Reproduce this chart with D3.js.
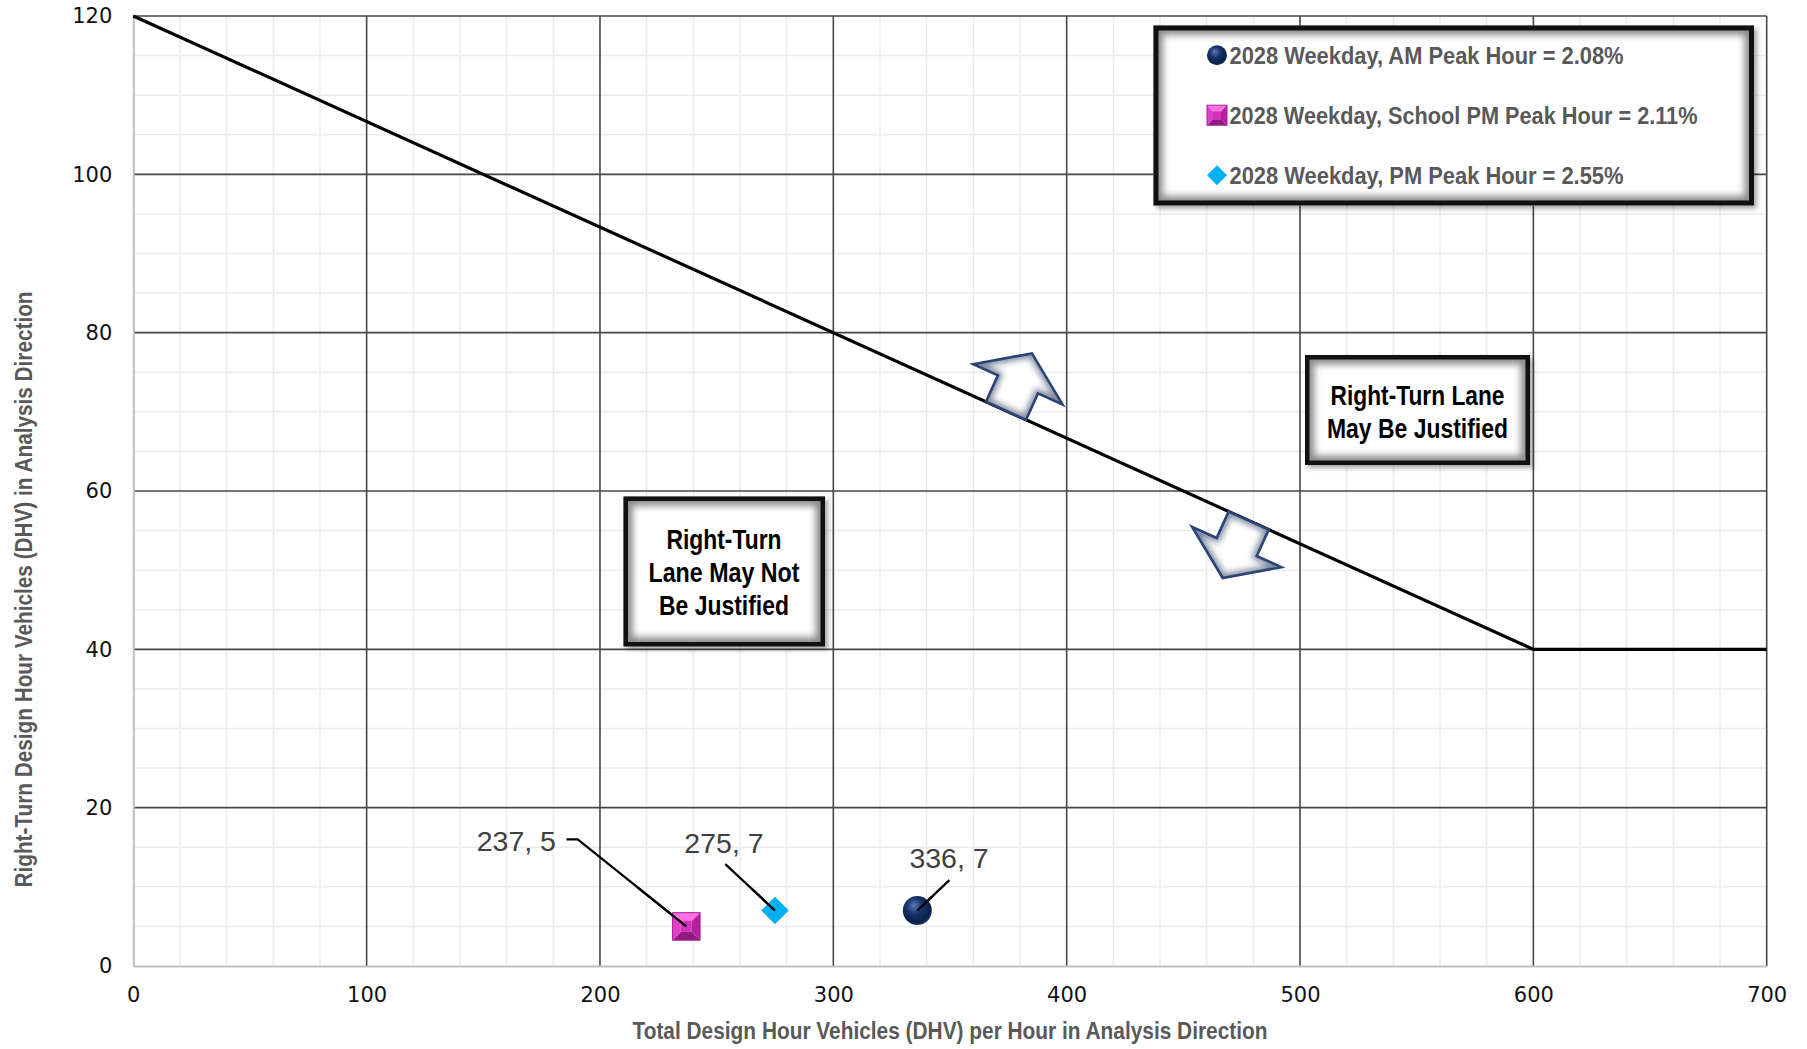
<!DOCTYPE html>
<html>
<head>
<meta charset="utf-8">
<script src="https://cdn.jsdelivr.net/npm/d3@7"></script>
<style>
  html, body { margin: 0; padding: 0; background: #ffffff; }
  svg { display: block; }
</style>
</head>
<body>
<svg id="chart" width="1807" height="1049"></svg>
<script>
// ---------------- DATA ----------------
const xTickValues = [0, 100, 200, 300, 400, 500, 600, 700];
const yTickValues = [0, 20, 40, 60, 80, 100, 120];
const xMinorStep = 20;
const yMinorStep = 5;

// threshold curve (right-turn lane guideline)
const thresholdX = [0, 600, 700];
const thresholdY = [120, 40, 40];

// scenario points
const seriesNames = [
  "2028 Weekday, AM Peak Hour = 2.08%",
  "2028 Weekday, School PM Peak Hour = 2.11%",
  "2028 Weekday, PM Peak Hour = 2.55%"
];
const seriesKeys = ["am", "school", "pm"];
const seriesX = [336, 237, 275];
const seriesY = [7, 5, 7];

// region labels
const regionBelowLines = ["Right-Turn", "Lane May Not", "Be Justified"];
const regionAboveLines = ["Right-Turn Lane", "May Be Justified"];

// arrows anchored on the threshold line (x value of arrow base)
const arrowBaseX = [374, 478];
const arrowDirs = ["up", "down"];

const xAxisTitle = "Total Design Hour Vehicles (DHV) per Hour in Analysis Direction";
const yAxisTitle = "Right-Turn Design Hour Vehicles (DHV) in Analysis Direction";

// ---------------- LAYOUT ----------------
const svg = d3.select("#chart");
const L = 133.3, R = 1766.7, T = 16, B = 966;
const x = d3.scaleLinear().domain([0, 700]).range([L, R]);
const y = d3.scaleLinear().domain([0, 120]).range([B, T]);
const thresholdAt = d3.scaleLinear().domain(thresholdX).range(thresholdY);

const defs = svg.append("defs");

// box drop shadow
const sh = defs.append("filter").attr("id", "boxShadow")
  .attr("x", "-10%").attr("y", "-10%").attr("width", "125%").attr("height", "130%");
sh.append("feDropShadow").attr("dx", 3).attr("dy", 3).attr("stdDeviation", 2.5)
  .attr("flood-color", "#000").attr("flood-opacity", 0.35);
const bl = defs.append("filter").attr("id", "bevelBlur")
  .attr("x", "-20%").attr("y", "-20%").attr("width", "140%").attr("height", "140%");
bl.append("feGaussianBlur").attr("stdDeviation", 3.5);
const bl2 = defs.append("filter").attr("id", "arrowBlur")
  .attr("x", "-20%").attr("y", "-20%").attr("width", "140%").attr("height", "140%");
bl2.append("feGaussianBlur").attr("stdDeviation", 3);

// sphere gradient
const sg = defs.append("radialGradient").attr("id", "sphere")
  .attr("cx", "42%").attr("cy", "38%").attr("r", "62%").attr("fx", "38%").attr("fy", "32%");
sg.append("stop").attr("offset", "0%").attr("stop-color", "#5a78b4");
sg.append("stop").attr("offset", "45%").attr("stop-color", "#17336a");
sg.append("stop").attr("offset", "85%").attr("stop-color", "#0a1f48");
sg.append("stop").attr("offset", "100%").attr("stop-color", "#1c3160");

// ---------------- GRID ----------------
const grid = svg.append("g");
const xMinor = d3.range(0, 700 + 0.001, xMinorStep).filter(v => v % 100 !== 0);
const yMinor = d3.range(0, 120 + 0.001, yMinorStep).filter(v => v % 20 !== 0);
grid.selectAll("line.xm").data(xMinor).join("line")
  .attr("x1", d => x(d)).attr("x2", d => x(d)).attr("y1", T).attr("y2", B)
  .attr("stroke", "#ebebeb").attr("stroke-width", 1.5);
grid.selectAll("line.ym").data(yMinor).join("line")
  .attr("y1", d => y(d)).attr("y2", d => y(d)).attr("x1", L).attr("x2", R)
  .attr("stroke", "#ebebeb").attr("stroke-width", 1.5);
grid.selectAll("line.xM").data(xTickValues.filter(v => v > 0)).join("line")
  .attr("x1", d => x(d)).attr("x2", d => x(d)).attr("y1", T).attr("y2", B)
  .attr("stroke", "#474747").attr("stroke-width", 1.6);
grid.selectAll("line.yM").data(yTickValues.filter(v => v > 0)).join("line")
  .attr("y1", d => y(d)).attr("y2", d => y(d)).attr("x1", L).attr("x2", R)
  .attr("stroke", "#474747").attr("stroke-width", 1.6);

// axes (lines + tick labels)
const xAxis = d3.axisBottom(x).tickValues(xTickValues).tickSize(0).tickPadding(21).tickFormat(d3.format("d"));
const yAxis = d3.axisLeft(y).tickValues(yTickValues).tickSize(0).tickPadding(21).tickFormat(d3.format("d"));
const gx = svg.append("g").attr("transform", `translate(0,${B})`).call(xAxis);
const gy = svg.append("g").attr("transform", `translate(${L},0)`).call(yAxis);
[gx, gy].forEach(g => {
  g.select(".domain").attr("stroke", "#bfbfbf").attr("stroke-width", 2);
  g.selectAll("text").attr("font-family", "'DejaVu Sans', sans-serif")
    .attr("font-size", 21).attr("fill", "#111");
});

// ---------------- THRESHOLD LINE ----------------
const lineGen = d3.line().x(d => x(d[0])).y(d => y(d[1]));
svg.append("path")
  .datum(thresholdX.map((v, i) => [v, thresholdY[i]]))
  .attr("d", lineGen).attr("fill", "none").attr("stroke", "#000").attr("stroke-width", 3.2)
  .attr("stroke-linejoin", "miter");

// ---------------- ARROWS ----------------
const ang = Math.atan2(y(40) - y(120), x(600) - x(0)) * 180 / Math.PI;
const arrowPath = "M -22,0 L -22,-29 L -49,-29 L 0,-63 L 49,-29 L 22,-29 L 22,0 Z";
arrowBaseX.forEach((bx, i) => {
  const px = x(bx), py = y(thresholdAt(bx));
  const rot = arrowDirs[i] === "up" ? ang : ang + 180;
  const g = svg.append("g").attr("transform", `translate(${px},${py}) rotate(${rot})`);
  const cid = "arrowClip" + i;
  defs.append("clipPath").attr("id", cid).append("path").attr("d", arrowPath);
  g.append("path").attr("d", arrowPath).attr("fill", "#ffffff");
  g.append("g").attr("clip-path", `url(#${cid})`)
    .append("path").attr("d", arrowPath).attr("fill", "none")
    .attr("stroke", "#7d879c").attr("stroke-width", 8).attr("filter", "url(#arrowBlur)");
  g.append("path").attr("d", arrowPath).attr("fill", "none")
    .attr("stroke", "#2c4474").attr("stroke-width", 2.6).attr("stroke-linejoin", "miter");
});

// ---------------- BEVELED BOX helper ----------------
function bevelBox(x0, y0, w, h, id, bw) {
  const g = svg.append("g");
  g.append("rect").attr("x", x0).attr("y", y0).attr("width", w).attr("height", h)
    .attr("fill", "#fff").attr("filter", "url(#boxShadow)");
  defs.append("clipPath").attr("id", id).append("rect")
    .attr("x", x0).attr("y", y0).attr("width", w).attr("height", h);
  g.append("g").attr("clip-path", `url(#${id})`).append("rect")
    .attr("x", x0 + bw / 2).attr("y", y0 + bw / 2).attr("width", w - bw).attr("height", h - bw)
    .attr("fill", "none").attr("stroke", "#8a8a8a").attr("stroke-width", 14)
    .attr("filter", "url(#bevelBlur)");
  g.append("rect").attr("x", x0 + bw / 2).attr("y", y0 + bw / 2)
    .attr("width", w - bw).attr("height", h - bw)
    .attr("fill", "none").attr("stroke", "#111").attr("stroke-width", bw);
  return g;
}

const condFont = "'Liberation Sans', Arial, sans-serif";

// region box: below
const b1 = bevelBox(623.5, 496.5, 201.5, 150, "clipB1", 4.5);
const b1Base = [548.5, 581.5, 614.5];
const b1Len = [115, 151, 130];
regionBelowLines.forEach((t, i) => {
  b1.append("text").attr("x", 724).attr("y", b1Base[i]).attr("text-anchor", "middle")
    .attr("font-family", condFont).attr("font-weight", "bold").attr("font-size", 28.5)
    .attr("fill", "#000").attr("textLength", b1Len[i]).attr("lengthAdjust", "spacingAndGlyphs").text(t);
});

// region box: above
const b2 = bevelBox(1305, 355, 225, 110, "clipB2", 4.5);
const b2Base = [405, 437.5];
const b2Len = [174, 181];
regionAboveLines.forEach((t, i) => {
  b2.append("text").attr("x", 1417.5).attr("y", b2Base[i]).attr("text-anchor", "middle")
    .attr("font-family", condFont).attr("font-weight", "bold").attr("font-size", 28.5)
    .attr("fill", "#000").attr("textLength", b2Len[i]).attr("lengthAdjust", "spacingAndGlyphs").text(t);
});

// ---------------- MARKERS ----------------
function drawMarker(g, key, cx, cy, s) {
  if (key === "am") {
    g.append("circle").attr("cx", cx).attr("cy", cy).attr("r", s / 2).attr("fill", "url(#sphere)");
  } else if (key === "school") {
    const h = s / 2, i = s * 0.2;
    const o = [[cx - h, cy - h], [cx + h, cy - h], [cx + h, cy + h], [cx - h, cy + h]];
    const n = [[cx - i, cy - i], [cx + i, cy - i], [cx + i, cy + i], [cx - i, cy + i]];
    const cols = ["#ff6fe6", "#b4209e", "#8f1a80", "#e23fc9"]; // top, right, bottom, left
    for (let k = 0; k < 4; k++) {
      const a = o[k], b = o[(k + 1) % 4], c = n[(k + 1) % 4], d = n[k];
      g.append("path").attr("d", `M${a}L${b}L${c}L${d}Z`).attr("fill", cols[k]);
    }
    g.append("rect").attr("x", cx - i).attr("y", cy - i).attr("width", 2 * i).attr("height", 2 * i)
      .attr("fill", "#d431bc");
    g.append("rect").attr("x", cx - h).attr("y", cy - h).attr("width", s).attr("height", s)
      .attr("fill", "none").attr("stroke", "#a51e90").attr("stroke-width", 1);
  } else {
    const h = s / 2;
    g.append("path").attr("d", `M${cx},${cy - h}L${cx + h},${cy}L${cx},${cy + h}L${cx - h},${cy}Z`)
      .attr("fill", "#00b0f0");
  }
}

// leader lines + labels (offsets relative to the point, in px)
const labelOffsets = { am: [31.7, -42.5], school: [-170, -75.5], pm: [-51, -57.5] };
const leaderEnds = { am: [[32, -30.5]], school: [[-108.6, -87], [-119.8, -87]], pm: [[-49.7, -46.5]] };
const labelFmt = (xv, yv) => `${xv}, ${yv}`;

const pts = svg.append("g");
seriesKeys.forEach((k, i) => {
  const px = x(seriesX[i]), py = y(seriesY[i]);
  const path = d3.path();
  path.moveTo(px, py);
  leaderEnds[k].forEach(e => path.lineTo(px + e[0], py + e[1]));
  pts.append("path").attr("d", path.toString()).attr("fill", "none")
    .attr("stroke", "#000").attr("stroke-width", 2.2);
});
seriesKeys.forEach((k, i) => {
  const px = x(seriesX[i]), py = y(seriesY[i]);
  const s = k === "am" ? 29 : 27.5;
  drawMarker(pts, k, px, py, s);
});
// leader tips over markers (they start at the marker centre) + labels
seriesKeys.forEach((k, i) => {
  const px = x(seriesX[i]), py = y(seriesY[i]);
  const e = leaderEnds[k][0];
  pts.append("line").attr("x1", px).attr("y1", py)
    .attr("x2", px + e[0] * 0.45).attr("y2", py + e[1] * 0.45)
    .attr("stroke", "#000").attr("stroke-width", 2.2);
  pts.append("text").attr("x", px + labelOffsets[k][0]).attr("y", py + labelOffsets[k][1])
    .attr("text-anchor", "middle").attr("font-family", "'Liberation Sans', Arial, sans-serif")
    .attr("font-size", 28.5).attr("fill", "#404040").text(labelFmt(seriesX[i], seriesY[i]));
});

// ---------------- LEGEND ----------------
const lg = bevelBox(1153.5, 25.5, 600.5, 180, "clipLeg", 5);
const legY = [55.3, 115.2, 175.2];
const legLen = [394, 468, 394];
seriesKeys.forEach((k, i) => {
  drawMarker(lg, k, 1217, legY[i], 20);
  lg.append("text").attr("x", 1229.5).attr("y", legY[i] + 8.4)
    .attr("font-family", condFont).attr("font-weight", "bold").attr("font-size", 24)
    .attr("fill", "#595959").attr("textLength", legLen[i]).attr("lengthAdjust", "spacingAndGlyphs")
    .text(seriesNames[i]);
});

// ---------------- AXIS TITLES ----------------
svg.append("text").attr("x", 950).attr("y", 1039).attr("text-anchor", "middle")
  .attr("font-family", condFont).attr("font-weight", "bold").attr("font-size", 23)
  .attr("fill", "#595959").attr("textLength", 635).attr("lengthAdjust", "spacingAndGlyphs")
  .text(xAxisTitle);
svg.append("text").attr("transform", "translate(32,589.5) rotate(-90)").attr("text-anchor", "middle")
  .attr("font-family", condFont).attr("font-weight", "bold").attr("font-size", 23)
  .attr("fill", "#595959").attr("textLength", 596).attr("lengthAdjust", "spacingAndGlyphs")
  .text(yAxisTitle);
</script>
</body>
</html>
